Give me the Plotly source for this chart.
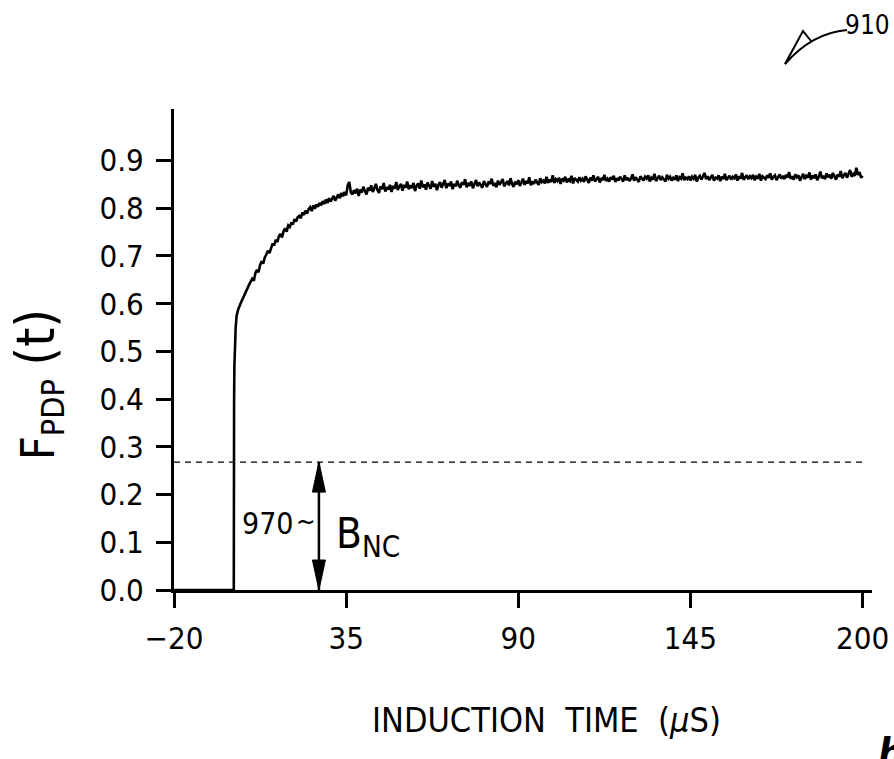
import plotly.graph_objects as go

# ---------------- data ----------------
time_pre = [-20.0, -0.9]
f_pre = [0.0, 0.0]
time_rise = [-0.8, -0.7, -0.3]
f_rise = [0.40, 0.47, 0.55]
time_main = [i * 0.5 for i in range(401)]  # 0 ... 200 us, 0.5 us sampling
f_main = [
    0.575, 0.588, 0.598, 0.604, 0.611, 0.619, 0.627, 0.631, 0.640, 0.646,
    0.652, 0.648, 0.664, 0.671, 0.666, 0.681, 0.689, 0.684, 0.697, 0.703,
    0.711, 0.706, 0.719, 0.726, 0.722, 0.734, 0.729, 0.741, 0.746, 0.739,
    0.752, 0.758, 0.751, 0.764, 0.761, 0.770, 0.766, 0.777, 0.772, 0.781,
    0.784, 0.779, 0.791, 0.786, 0.795, 0.789, 0.798, 0.802, 0.794, 0.806,
    0.799, 0.808, 0.803, 0.811, 0.806, 0.815, 0.809, 0.818, 0.811, 0.821,
    0.814, 0.819, 0.826, 0.816, 0.824, 0.829, 0.821, 0.832, 0.825, 0.834,
    0.827, 0.848, 0.855, 0.833, 0.829, 0.838, 0.831, 0.841, 0.826, 0.839,
    0.833, 0.845, 0.836, 0.829, 0.843, 0.837, 0.848, 0.834, 0.842, 0.851,
    0.838, 0.832, 0.846, 0.840, 0.853, 0.835, 0.844, 0.839, 0.849, 0.834,
    0.847, 0.841, 0.855, 0.838, 0.846, 0.851, 0.837, 0.849, 0.843, 0.856,
    0.840, 0.848, 0.842, 0.853, 0.836, 0.847, 0.852, 0.841, 0.858, 0.844,
    0.850, 0.839, 0.854, 0.846, 0.841, 0.857, 0.845, 0.851, 0.838, 0.849,
    0.855, 0.843, 0.850, 0.859, 0.842, 0.852, 0.847, 0.856, 0.840, 0.851,
    0.846, 0.858, 0.848, 0.843, 0.855, 0.849, 0.861, 0.844, 0.853, 0.847,
    0.856, 0.842, 0.851, 0.859, 0.846, 0.854, 0.848, 0.843, 0.857, 0.850,
    0.845, 0.856, 0.851, 0.862, 0.847, 0.853, 0.844, 0.858, 0.849, 0.855,
    0.861, 0.846, 0.852, 0.857, 0.848, 0.863, 0.851, 0.845, 0.856, 0.850,
    0.859, 0.847, 0.854, 0.862, 0.849, 0.857, 0.852, 0.865, 0.848, 0.856,
    0.851, 0.860, 0.854, 0.849, 0.863, 0.855, 0.858, 0.852, 0.866, 0.853,
    0.860, 0.855, 0.869, 0.853, 0.861, 0.857, 0.864, 0.851, 0.862, 0.858,
    0.866, 0.854, 0.860, 0.857, 0.868, 0.852, 0.863, 0.859, 0.856, 0.865,
    0.858, 0.862, 0.855, 0.867, 0.860, 0.853, 0.864, 0.858, 0.869, 0.856,
    0.861, 0.866, 0.854, 0.863, 0.859, 0.870, 0.857, 0.862, 0.856, 0.865,
    0.860, 0.868, 0.855, 0.863, 0.858, 0.866, 0.861, 0.856, 0.869, 0.859,
    0.864, 0.857, 0.862, 0.871, 0.858, 0.865, 0.860, 0.855, 0.867, 0.861,
    0.858, 0.866, 0.862, 0.869, 0.856, 0.864, 0.860, 0.872, 0.857, 0.863,
    0.868, 0.859, 0.865, 0.861, 0.856, 0.870, 0.862, 0.866, 0.858, 0.864,
    0.860, 0.869, 0.857, 0.865, 0.862, 0.873, 0.859, 0.864, 0.861, 0.867,
    0.858, 0.866, 0.862, 0.870, 0.856, 0.864, 0.868, 0.860, 0.866, 0.874,
    0.861, 0.867, 0.859, 0.865, 0.870, 0.858, 0.864, 0.862, 0.869, 0.857,
    0.866, 0.861, 0.872, 0.859, 0.864, 0.868, 0.860, 0.866, 0.863, 0.871,
    0.858, 0.867, 0.862, 0.874, 0.860, 0.865, 0.869, 0.861, 0.867, 0.863,
    0.870, 0.859, 0.866, 0.862, 0.872, 0.858, 0.867, 0.864, 0.861, 0.869,
    0.864, 0.873, 0.860, 0.866, 0.869, 0.859, 0.865, 0.871, 0.862, 0.868,
    0.861, 0.870, 0.864, 0.876, 0.862, 0.867, 0.860, 0.871, 0.865, 0.869,
    0.858, 0.866, 0.872, 0.861, 0.868, 0.864, 0.875, 0.860, 0.869, 0.863,
    0.871, 0.859, 0.866, 0.877, 0.863, 0.868, 0.861, 0.873, 0.865, 0.870,
    0.862, 0.874, 0.867, 0.860, 0.871, 0.866, 0.878, 0.863, 0.869, 0.874,
    0.864, 0.871, 0.880, 0.866, 0.872, 0.868, 0.885, 0.870, 0.876, 0.864,
    0.868,
]
bnc_level = 0.268
arrow_time = 26.3
x_ticks = [-20, 35, 90, 145, 200]
x_tick_labels = ["\u221220", "35", "90", "145", "200"]
y_ticks = [0.0, 0.1, 0.2, 0.3, 0.4, 0.5, 0.6, 0.7, 0.8, 0.9]

# ---------------- layout geometry ----------------
W, H = 894, 759
L, R, T, B = 174, 22, 109, 169
PW, PH = W - L - R, H - T - B
X_RANGE = [-20, 203]
Y_RANGE = [0, 1.008]
FONT = "DejaVu Sans Condensed, Liberation Sans Narrow, sans-serif"


def px(xp):
    return (xp - L) / PW


def py(yp):
    return (H - B - yp) / PH


time_all = time_pre + time_rise + time_main
f_all = f_pre + f_rise + f_main

fig = go.Figure()
fig.add_trace(go.Scatter(x=time_all, y=f_all, mode="lines",
                         line=dict(color="black", width=2.6), hoverinfo="skip"))

# dashed B_NC level line
fig.add_trace(go.Scatter(x=[x_ticks[0], x_ticks[-1]], y=[bnc_level, bnc_level], mode="lines",
                         line=dict(color="black", width=1.3, dash="6px,5px"), hoverinfo="skip"))

# double arrow
head_len = 30 / PH * (Y_RANGE[1] - Y_RANGE[0])
head_hw = 6.5 / PW * (X_RANGE[1] - X_RANGE[0])
shapes = [
    dict(type="line", xref="x", yref="y", x0=arrow_time, x1=arrow_time, y0=0, y1=bnc_level,
         line=dict(color="black", width=2.5)),
    dict(type="path", xref="x", yref="y",
         path=f"M{arrow_time - head_hw},{bnc_level - head_len} L{arrow_time},{bnc_level} "
              f"L{arrow_time + head_hw},{bnc_level - head_len} Z",
         fillcolor="black", line=dict(color="black", width=1)),
    dict(type="path", xref="x", yref="y",
         path=f"M{arrow_time - head_hw},{head_len} L{arrow_time},0 "
              f"L{arrow_time + head_hw},{head_len} Z",
         fillcolor="black", line=dict(color="black", width=1)),
    # lead line for 910
    dict(type="path", xref="paper", yref="paper",
         path=f"M{px(847)},{py(30)} Q{px(812)},{py(33)} {px(785)},{py(64)}",
         line=dict(color="black", width=2)),
    dict(type="path", xref="paper", yref="paper",
         path=f"M{px(785)},{py(64)} L{px(803)},{py(31)} L{px(811)},{py(41)}",
         line=dict(color="black", width=2)),
]

annotations = [
    dict(text="970", x=px(268), y=py(523), xref="paper", yref="paper", showarrow=False,
         font=dict(family=FONT, size=30, color="black"), xanchor="center", yanchor="middle"),
    dict(text="~", x=px(306), y=py(521), xref="paper", yref="paper", showarrow=False,
         font=dict(family=FONT, size=26, color="black"), xanchor="center", yanchor="middle"),
    dict(text="B<sub>NC</sub>", x=px(334), y=py(536), xref="paper", yref="paper", showarrow=False,
         font=dict(family=FONT, size=42, color="black"), xanchor="left", yanchor="middle"),
    dict(text="910", x=px(892), y=py(25), xref="paper", yref="paper", showarrow=False,
         font=dict(family=FONT, size=26, color="black"), xanchor="right", yanchor="middle"),
    dict(text="INDUCTION  TIME  (<i>µ</i>S)", x=px(546), y=py(720), xref="paper", yref="paper",
         showarrow=False, font=dict(family=FONT, size=34, color="black"),
         xanchor="center", yanchor="middle"),
    dict(text="F<sub>PDP</sub> <span style='font-size:54px'>(t)</span>", x=px(38), y=py(385),
         xref="paper", yref="paper",
         showarrow=False, textangle=-90, font=dict(family=FONT, size=46, color="black"),
         xanchor="center", yanchor="middle"),
    dict(text="<b><i>h</i></b>", x=px(876), y=py(728), xref="paper", yref="paper",
         showarrow=False, font=dict(family=FONT, size=40, color="black"),
         xanchor="left", yanchor="top"),
]

axis_common = dict(showline=True, linecolor="black", linewidth=3, ticks="outside",
                   ticklen=15, tickwidth=3, tickcolor="black", showgrid=False, zeroline=False,
                   automargin=False,
                   tickfont=dict(family=FONT, size=31, color="black"), fixedrange=True)

fig.update_layout(
    width=W, height=H,
    margin=dict(l=L, r=R, t=T, b=B, pad=0),
    paper_bgcolor="white", plot_bgcolor="white",
    showlegend=False,
    xaxis=dict(range=X_RANGE, tickvals=x_ticks, ticktext=x_tick_labels,
               ticklabelstandoff=4, **axis_common),
    yaxis=dict(range=Y_RANGE, tickvals=y_ticks, tickformat=".1f", ticklabelstandoff=6,
               **axis_common),
    shapes=shapes,
    annotations=annotations,
)

fig.write_html("out.html")
